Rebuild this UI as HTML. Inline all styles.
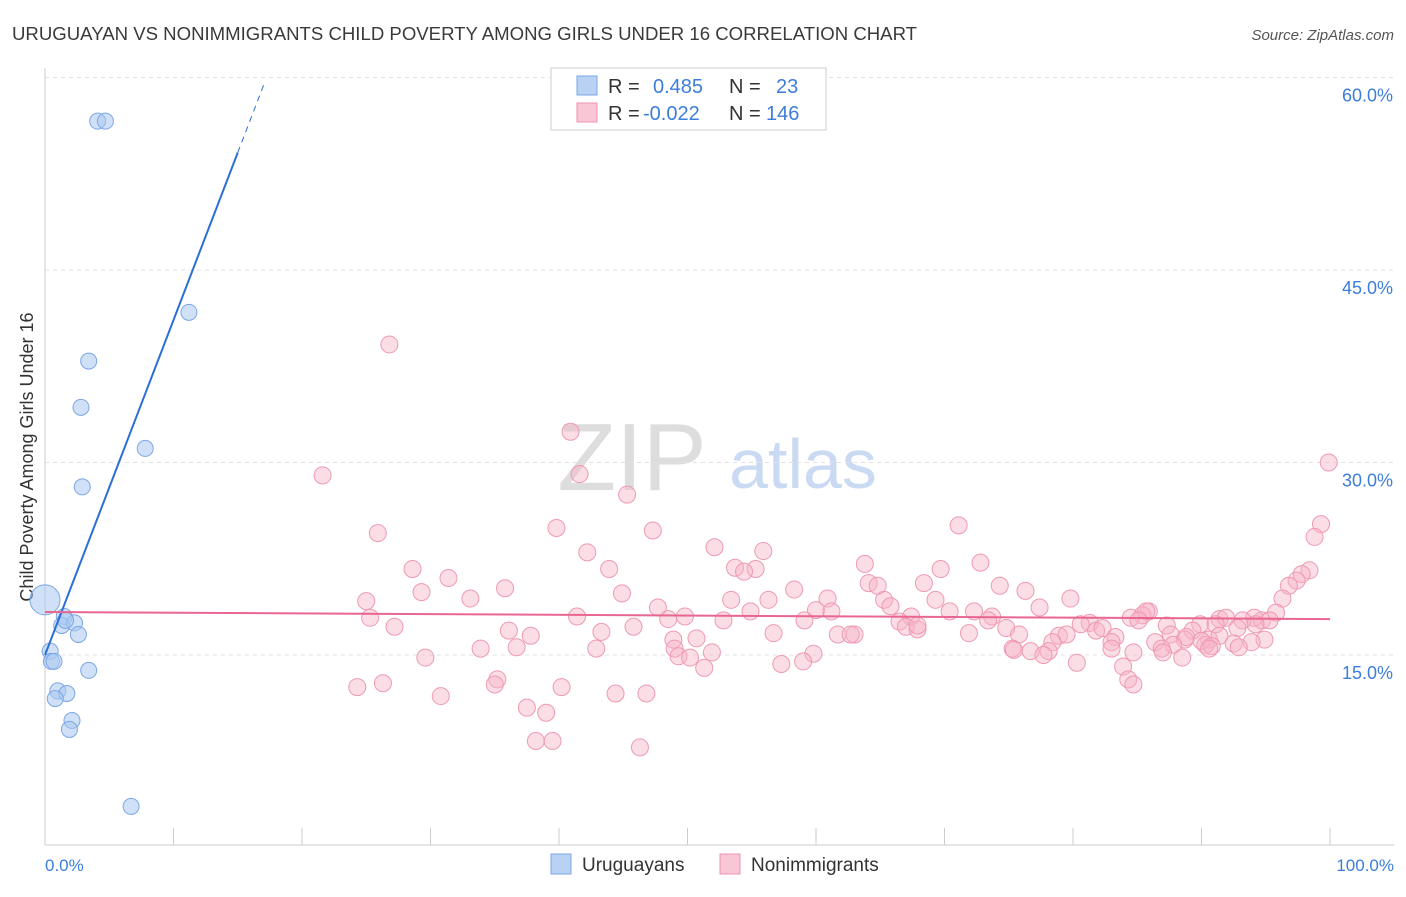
<!DOCTYPE html>
<html><head><meta charset="utf-8"><style>
body{margin:0;background:#fff;font-family:"Liberation Sans",sans-serif;}
svg text{font-family:"Liberation Sans",sans-serif;}
</style></head><body>
<svg id="chart" width="1406" height="892" xmlns="http://www.w3.org/2000/svg">
<text x="12" y="40" font-size="18.6" fill="#3a3a3a">URUGUAYAN VS NONIMMIGRANTS CHILD POVERTY AMONG GIRLS UNDER 16 CORRELATION CHART</text>
<text x="1394" y="40" font-size="15" fill="#555" text-anchor="end" font-style="italic">Source: ZipAtlas.com</text>
<g>
<text x="632" y="490" font-size="96" fill="#ddd" text-anchor="middle" font-family="Liberation Serif, serif">ZIP</text>
<text x="803" y="488" font-size="70" fill="#c9daf2" text-anchor="middle">atlas</text>
</g>
<g id="grid"></g>
<line x1="45" y1="68" x2="45" y2="845" stroke="#ccc"/>
<line x1="45" y1="845" x2="1394" y2="845" stroke="#ccc"/>
<g id="xticks"></g>
<text transform="translate(33,457) rotate(-90)" font-size="18" fill="#333" text-anchor="middle">Child Poverty Among Girls Under 16</text>
<text x="45" y="871" font-size="17" fill="#3d7ddb">0.0%</text>
<text x="1394" y="871" font-size="17" fill="#3d7ddb" text-anchor="end">100.0%</text>
<g id="pinkpts"></g>
<g id="bluepts"></g>
<g id="lines"></g>
<g>
<rect x="551" y="68" width="275" height="62" fill="#fff" stroke="#ccc"/>
<rect x="577" y="76" width="20" height="19" fill="#b9d2f3" stroke="#7aa6e6"/>
<rect x="577" y="103" width="20" height="19" fill="#f9c6d5" stroke="#ee93ae"/>
<text x="608" y="93" font-size="20" fill="#333">R =</text>
<text x="653" y="93" font-size="20" fill="#3d7ddb">0.485</text>
<text x="729" y="93" font-size="20" fill="#333">N =</text>
<text x="776" y="93" font-size="20" fill="#3d7ddb">23</text>
<text x="608" y="120" font-size="20" fill="#333">R =</text>
<text x="643" y="120" font-size="20" fill="#3d7ddb">-0.022</text>
<text x="729" y="120" font-size="20" fill="#333">N =</text>
<text x="766" y="120" font-size="20" fill="#3d7ddb">146</text>
</g>
<g>
<rect x="551" y="854" width="20" height="20" fill="#b9d2f3" stroke="#7aa6e6"/>
<text x="582" y="871" font-size="19" fill="#333">Uruguayans</text>
<rect x="720" y="854" width="20" height="20" fill="#f9c6d5" stroke="#ee93ae"/>
<text x="751" y="871" font-size="19" fill="#333">Nonimmigrants</text>
</g>
</svg>
<script>
const yTicks=[15,30,45,60];
const xTickVals=[0,10,20,30,40,50,60,70,80,90,100];
const blueX=[0,4.1,4.7,11.2,3.4,2.8,7.8,2.9,1.5,1.3,2.3,2.6,0.4,0.5,0.7,3.4,1.0,1.7,0.8,2.1,1.9,6.7,1.6];
const blueY=[19.3,56.6,56.6,41.7,37.9,34.3,31.1,28.1,18.0,17.3,17.5,16.6,15.3,14.5,14.5,13.8,12.2,12.0,11.6,9.9,9.2,3.2,17.7];
const pinkX=[26.8,40.9,21.6,41.6,45.3,99.9,99.3,71.1,25.9,39.8,47.3,98.8,52.1,42.2,55.9,63.8,72.8,28.6,43.9,53.7,55.3,54.4,69.7,98.4,97.8,31.4,97.4,35.8,29.3,44.9,58.3,74.3,76.3,68.4,64.1,64.8,96.8,33.1,25.0,53.4,60.9,65.3,79.8,69.3,47.7,56.3,96.3,65.8,70.4,77.4,60.0,61.2,85.9,95.8,85.4,85.7,41.4,54.9,25.3,49.8,67.4,72.3,73.7,73.4,52.8,48.5,59.1,81.3,84.5,91.4,91.9,94.7,94.1,89.9,91.1,87.3,93.2,95.3,27.2,45.8,36.1,66.5,67.0,67.9,74.8,80.6,94.2,85.1,92.8,89.3,37.8,43.3,61.7,56.7,63.0,62.7,67.9,71.9,75.8,78.9,81.8,83.3,87.6,83.0,79.5,48.9,50.7,82.3,88.7,90.6,88.8,91.4,94.9,90.3,90.0,92.5,93.9,49.0,36.7,33.9,42.9,75.3,78.4,87.8,86.4,78.1,76.7,86.9,83.0,75.4,92.9,90.8,49.3,51.9,59.8,50.2,77.7,88.5,90.6,87.0,84.7,29.6,57.3,59.0,51.3,80.3,83.9,84.3,35.2,35.0,24.3,26.3,40.2,84.7,30.8,44.4,46.8,37.5,39.0,38.2,39.5,46.3];
const pinkY=[39.2,32.4,29.0,29.1,27.5,30.0,25.2,25.1,24.5,24.9,24.7,24.2,23.4,23.0,23.1,22.1,22.2,21.7,21.7,21.8,21.7,21.5,21.7,21.6,21.3,21.0,20.8,20.2,19.9,19.8,20.1,20.4,20.0,20.6,20.6,20.4,20.4,19.4,19.2,19.3,19.4,19.3,19.4,19.3,18.7,19.3,19.4,18.8,18.4,18.7,18.5,18.4,18.4,18.3,18.1,18.4,18.0,18.4,17.9,18.0,18.0,18.4,18.0,17.7,17.7,17.8,17.7,17.5,17.9,17.8,17.9,17.7,17.9,17.4,17.4,17.3,17.7,17.7,17.2,17.2,16.9,17.6,17.2,17.0,17.1,17.4,17.4,17.7,17.1,16.9,16.5,16.8,16.6,16.7,16.6,16.6,17.3,16.7,16.6,16.5,16.9,16.4,16.6,16.0,16.6,16.2,16.3,17.1,16.2,16.2,16.4,16.5,16.2,15.8,16.1,15.9,16.0,15.5,15.6,15.5,15.5,15.5,16.0,15.8,16.0,15.3,15.3,15.5,15.5,15.4,15.6,15.7,14.9,15.2,15.1,14.8,15.0,14.8,15.5,15.2,15.2,14.8,14.3,14.5,14.0,14.4,14.1,13.1,13.1,12.7,12.5,12.8,12.5,12.7,11.8,12.0,12.0,10.9,10.5,8.3,8.3,7.8];
const blueFit=[15.0,2.61];
const pinkFit=[18.35,17.8];
const NS='http://www.w3.org/2000/svg';
const X=v=>45+v*12.85;
const Y=v=>655-(v-15)*12.833;
function mk(tag,attrs,parent){const e=document.createElementNS(NS,tag);for(const k in attrs)e.setAttribute(k,attrs[k]);document.getElementById(parent).appendChild(e);return e;}
yTicks.forEach(t=>{
 const l=mk('line',{x1:45,x2:1394,y1:Y(t),y2:Y(t),stroke:'#e2e2e2','stroke-dasharray':'4,4'},'grid');
 
 
 const tx=mk('text',{x:1393,y:Y(t)+24,'font-size':18,fill:'#3d7ddb','text-anchor':'end'},'grid');
 tx.textContent=t.toFixed(1)+'%';
 
 
});
xTickVals.forEach(t=>{
 const l=mk('line',{x1:X(t),x2:X(t),y1:828,y2:845,stroke:'#ccc'},'xticks');
 
 
});
pinkX.forEach((x,i)=>{
 const c=mk('circle',{cx:X(x),cy:Y(pinkY[i]),r:8.5,fill:'rgba(246,180,200,0.45)',stroke:'#ee9ab3','stroke-width':1},'pinkpts');
 
 
});
blueX.forEach((x,i)=>{
 const c=mk('circle',{cx:X(x),cy:Y(blueY[i]),r:i===0?15:8,fill:'rgba(170,200,240,0.55)',stroke:'#7aa6e6','stroke-width':1},'bluepts');
 
 
});
const bl=mk('line',{x1:X(0),y1:Y(blueFit[0]),x2:X(15),y2:Y(blueFit[0]+blueFit[1]*15),stroke:'#2b6fd6','stroke-width':2},'lines');


const bd=mk('line',{x1:X(15),y1:Y(blueFit[0]+blueFit[1]*15),x2:X(17.1),y2:Y(blueFit[0]+blueFit[1]*17.1),stroke:'#2b6fd6','stroke-width':1,'stroke-dasharray':'6,5'},'lines');


const pl=mk('line',{x1:X(0),y1:Y(pinkFit[0]),x2:X(100),y2:Y(pinkFit[1]),stroke:'#e8668f','stroke-width':2},'lines');


</script>
</body></html>
